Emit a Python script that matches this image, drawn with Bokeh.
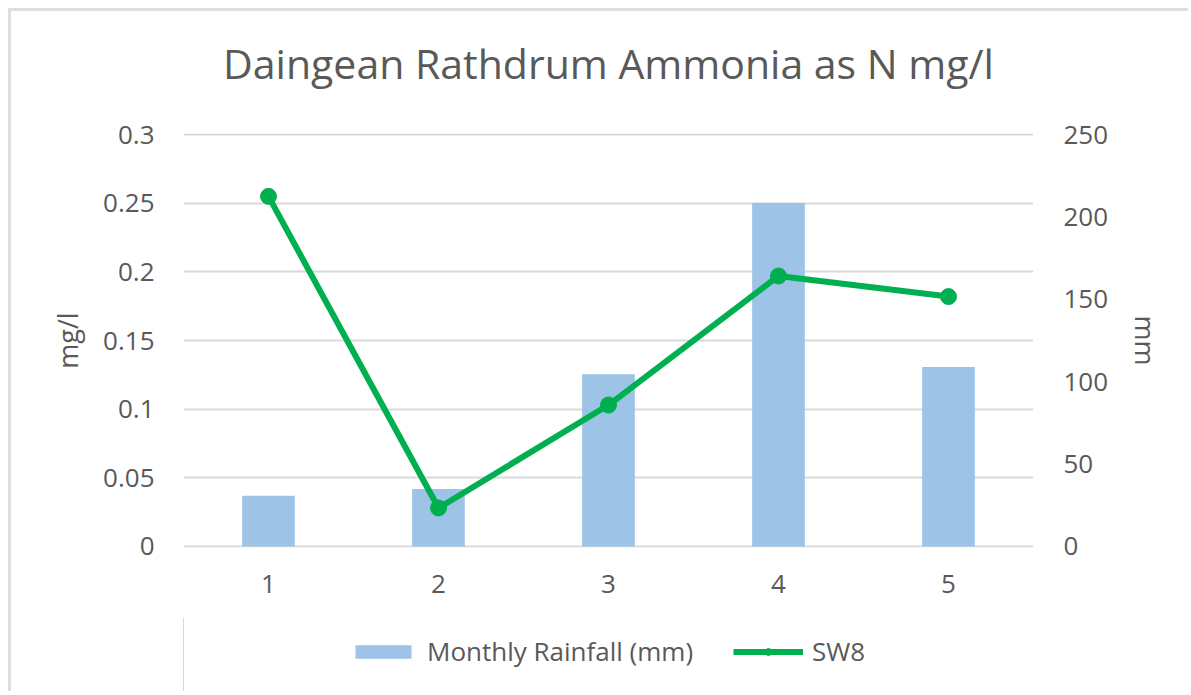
from bokeh.plotting import figure
from bokeh.layouts import column
from bokeh.models import Range1d, LinearAxis, Legend, LegendItem, FixedTicker, Label
from bokeh.embed import file_html
from bokeh.resources import INLINE

months = [1, 2, 3, 4, 5]
rainfall_mm = [30.8, 34.8, 104.5, 208.5, 108.9]
sw8_mgl = [0.255, 0.028, 0.103, 0.197, 0.182]
left_ticks = [0, 0.05, 0.1, 0.15, 0.2, 0.25, 0.3]
right_ticks = [0, 50, 100, 150, 200, 250]
series_names = ["Monthly Rainfall (mm)", "SW8"]
title_text = "Daingean Rathdrum Ammonia as N mg/l"

FONT = "Open Sans"
GREY = "#595959"
BAR_COLOR = "#9dc3e6"
LINE_COLOR = "#00b050"
PAD = 0.0008          # small pad so that the 0 and 0.3 gridlines are not clipped
L_MAX, R_MAX = 0.3, 250.0

def bare(fig):
    fig.outline_line_color = None
    fig.grid.grid_line_color = None
    fig.background_fill_color = None
    fig.border_fill_color = None

# ---- title strip ----
hd = figure(width=1177, height=80, output_backend="svg", toolbar_location=None,
            x_range=Range1d(0.5, 5.5), y_range=Range1d(0, 1),
            x_axis_type=None, y_axis_type=None, min_border=0)
bare(hd)
hd.add_layout(Label(x=3, y=29, y_units="screen", text=title_text, text_align="center",
                    text_baseline="alphabetic", text_font=FONT, text_font_size="41px",
                    text_color=GREY))

# ---- main chart ----
p = figure(frame_width=850, frame_height=414, output_backend="svg", toolbar_location=None,
           x_range=Range1d(0.5, 5.5), y_range=Range1d(-PAD, L_MAX + PAD),
           min_border_left=172, min_border_right=155, min_border_top=42, min_border_bottom=70)
p.outline_line_color = None
k = R_MAX / L_MAX
p.extra_y_ranges = {"mm": Range1d(-PAD * k, (L_MAX + PAD) * k)}

p.vbar(x=months, top=rainfall_mm, width=0.31, y_range_name="mm",
       fill_color=BAR_COLOR, line_color=None)
p.line(x=months, y=sw8_mgl, line_color=LINE_COLOR, line_width=6)
p.scatter(x=months, y=sw8_mgl, size=16, fill_color=LINE_COLOR, line_color=LINE_COLOR)

def style_axis(ax):
    ax.axis_line_color = None
    ax.major_tick_line_color = None
    ax.minor_tick_line_color = None
    ax.major_tick_out = 0
    ax.major_tick_in = 0
    ax.minor_tick_out = 0
    ax.major_label_text_font = FONT
    ax.major_label_text_font_size = "26px"
    ax.major_label_text_color = GREY
    ax.axis_label_text_font = FONT
    ax.axis_label_text_font_size = "27px"
    ax.axis_label_text_font_style = "normal"
    ax.axis_label_text_color = GREY

style_axis(p.xaxis[0])
style_axis(p.yaxis[0])
p.xaxis[0].ticker = FixedTicker(ticks=months)
p.xaxis[0].major_label_standoff = 27
p.yaxis[0].ticker = FixedTicker(ticks=left_ticks)
p.yaxis[0].major_label_standoff = 29
p.yaxis[0].axis_label = "mg/l"
p.yaxis[0].axis_label_standoff = 14

rax = LinearAxis(y_range_name="mm", ticker=FixedTicker(ticks=right_ticks), axis_label="mm")
style_axis(rax)
rax.major_label_standoff = 30
rax.axis_label_standoff = 16
rax.axis_label_orientation = "vertical"
p.add_layout(rax, "right")

p.xgrid.grid_line_color = None
p.ygrid.grid_line_color = "#d9d9d9"
p.ygrid.grid_line_width = 2

# ---- legend strip below the chart (its sample glyphs are drawn out of view) ----
lg = figure(width=1177, height=74, output_backend="svg", toolbar_location=None,
            x_range=Range1d(100, 101), y_range=Range1d(100, 101),
            x_axis_type=None, y_axis_type=None, min_border=0)
bare(lg)
lb = lg.vbar(x=months, top=rainfall_mm, width=0.31, fill_color=BAR_COLOR, line_color=None)
ll = lg.line(x=months, y=sw8_mgl, line_color=LINE_COLOR, line_width=6)
ls = lg.scatter(x=months, y=sw8_mgl, size=16, fill_color=LINE_COLOR, line_color=LINE_COLOR)

legend = Legend(items=[LegendItem(label=series_names[0], renderers=[lb]),
                       LegendItem(label=series_names[1], renderers=[ll, ls])],
                orientation="horizontal", location=(165, 22),
                label_text_font=FONT, label_text_font_size="26px", label_text_color=GREY,
                label_standoff=9, glyph_width=70, glyph_height=17, spacing=40,
                padding=0, margin=0, border_line_color=None, background_fill_alpha=0)
lg.add_layout(legend, "center")

page = column(hd, p, lg, spacing=0)
page.styles = {"margin-left": "8px", "margin-top": "8px",
               "border-left": "3px solid #dedede", "border-top": "3px solid #dedede"}

open("out.html", "w").write(file_html(page, INLINE))
